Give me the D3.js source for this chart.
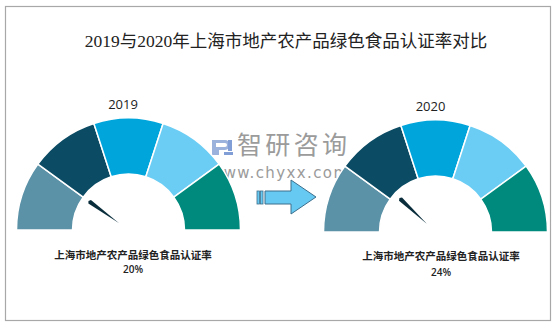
<!DOCTYPE html>
<html>
<head>
<meta charset="utf-8">
<script src="https://cdn.jsdelivr.net/npm/d3@7"></script>
<style>
  html, body { margin: 0; padding: 0; background: #fff; }
  svg { display: block; }
</style>
</head>
<body>
<svg id="chart" width="558" height="324"></svg>
<script>
// Gauge bands: five equal sectors, left to right
const bandColors = ["#5b92a7", "#0b4b63", "#00a5db", "#6bcdf4", "#008a7d"];
const bandShares = [1, 1, 1, 1, 1];

// Years and certification rates (%)
const years = ["2019", "2020"];
const rates = [20, 24];
const metricLabel = "上海市地产农产品绿色食品认证率";
const title = "2019与2020年上海市地产农产品绿色食品认证率对比";

const svg = d3.select("#chart");

// Frame
svg.append("rect")
  .attr("x", 5.5).attr("y", 6.5)
  .attr("width", 545).attr("height", 314)
  .attr("fill", "#fff")
  .attr("stroke", "#a8a8a8").attr("stroke-width", 1.2);

// Title
svg.append("text")
  .attr("x", 286).attr("y", 47)
  .attr("text-anchor", "middle")
  .attr("font-family", "'Liberation Serif', 'Noto Sans CJK SC', serif")
  .attr("font-size", 17.5)
  .attr("fill", "#222")
  .text(title);

// Gauge geometry
const gauges = [
  { cx: 128.5, cy: 230, yearX: 123, yearY: 109, labX: 133, labY: 259, pctY: 273 },
  { cx: 435.5, cy: 232, yearX: 430.5, yearY: 111, labX: 441, labY: 260, pctY: 276 }
];
const outerR = 112, innerR = 56;

// Rate -> needle angle (d3 arc convention: 0 at top, clockwise)
const angle = d3.scaleLinear().domain([0, 100]).range([-Math.PI / 2, Math.PI / 2]);

const pie = d3.pie().sort(null).value(d => d)
  .startAngle(-Math.PI / 2).endAngle(Math.PI / 2);
const arc = d3.arc().innerRadius(innerR).outerRadius(outerR);

const defs = svg.append("defs");

// Watermark (drawn beneath the gauges)
const wm = svg.append("g").attr("opacity", 0.85);
wm.append("rect").attr("x", 212).attr("y", 140).attr("width", 4).attr("height", 15).attr("fill", "#8aa6d6");
wm.append("path").attr("d", "M216,140 h9 a5,5 0 0 1 0,10 h-6 v5 h-3 v-8 h9 a2,2 0 0 0 0,-4 h-9 z").attr("fill", "#8aa6d6");
wm.append("rect").attr("x", 228).attr("y", 140).attr("width", 4).attr("height", 11).attr("fill", "#6c8fcf");
wm.append("rect").attr("x", 224).attr("y", 152).attr("width", 9).attr("height", 3).attr("fill", "#6c8fcf");
wm.append("text")
  .attr("x", 237).attr("y", 154)
  .attr("font-family", "'Noto Sans CJK SC', sans-serif")
  .attr("font-size", 25)
  .attr("textLength", 110)
  .attr("fill", "#8a8a8a")
  .text("智研咨询");
wm.append("text")
  .attr("x", 210).attr("y", 178)
  .attr("font-family", "'DejaVu Sans', sans-serif")
  .attr("font-size", 15)
  .attr("textLength", 138)
  .attr("fill", "#8a8a8a")
  .text("www.chyxx.com");

gauges.forEach((g, i) => {
  const grp = svg.append("g").attr("transform", `translate(${g.cx},${g.cy})`);

  grp.selectAll("path.band")
    .data(pie(bandShares))
    .join("path")
    .attr("class", "band")
    .attr("d", arc)
    .attr("fill", (d, k) => bandColors[k])
    .attr("stroke", "#fff")
    .attr("stroke-width", 1.5);

  // Needle: tapered wedge, broad at the outer end, fading toward the hub
  const a = angle(rates[i]);
  const ux = Math.sin(a), uy = -Math.cos(a);
  const px = -uy, py = ux;
  const rTip = 48, rIn = 12, half = 2.2;
  const gid = "needleGrad" + i;
  const grad = defs.append("linearGradient")
    .attr("id", gid)
    .attr("gradientUnits", "userSpaceOnUse")
    .attr("x1", g.cx + ux * rTip).attr("y1", g.cy + uy * rTip)
    .attr("x2", g.cx + ux * rIn).attr("y2", g.cy + uy * rIn);
  grad.append("stop").attr("offset", 0).attr("stop-color", "#0a2d3b");
  grad.append("stop").attr("offset", 0.55).attr("stop-color", "#1d4a5c");
  grad.append("stop").attr("offset", 1).attr("stop-color", "#d6e2e8");

  const pts = [
    [ux * rTip + px * half, uy * rTip + py * half],
    [ux * (rTip + 1.5), uy * (rTip + 1.5)],
    [ux * rTip - px * half, uy * rTip - py * half],
    [ux * rIn, uy * rIn]
  ];
  svg.append("path")
    .attr("transform", `translate(${g.cx},${g.cy})`)
    .attr("d", d3.line()(pts) + "Z")
    .attr("fill", `url(#${gid})`);

  // Year heading
  svg.append("text")
    .attr("x", g.yearX).attr("y", g.yearY)
    .attr("text-anchor", "middle")
    .attr("font-family", "'Open Sans', 'Noto Sans', sans-serif")
    .attr("font-size", 13)
    .attr("fill", "#222")
    .text(years[i]);

  // Metric label and value
  svg.append("text")
    .attr("x", g.labX).attr("y", g.labY)
    .attr("text-anchor", "middle")
    .attr("font-family", "'Noto Sans CJK SC', sans-serif")
    .attr("font-size", 10.5)
    .attr("font-weight", "bold")
    .attr("fill", "#222")
    .text(metricLabel);
  svg.append("text")
    .attr("x", g.labX).attr("y", g.pctY)
    .attr("text-anchor", "middle")
    .attr("font-family", "'Open Sans', 'Noto Sans', sans-serif")
    .attr("font-size", 10)
    .attr("font-weight", "600")
    .attr("fill", "#222")
    .text(rates[i] + "%");
});

// Transition arrow between the two gauges
const arrow = svg.append("g");
arrow.append("path")
  .attr("d", "M265,191 H291 V180 L316,197 L291,214 V204 H265 Z")
  .attr("fill", "#66c9f2")
  .attr("stroke", "#3d6f8c").attr("stroke-width", 1);
[257, 260.5].forEach(x => {
  arrow.append("rect")
    .attr("x", x).attr("y", 191)
    .attr("width", 2.5).attr("height", 13)
    .attr("fill", "#66c9f2")
    .attr("stroke", "#3d6f8c").attr("stroke-width", 0.8);
});
</script>
</body>
</html>
